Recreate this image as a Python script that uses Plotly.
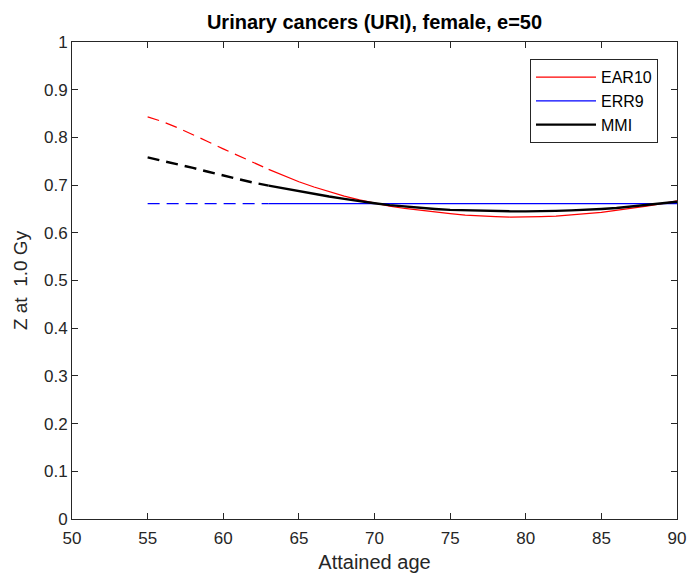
import plotly.graph_objects as go

ages = list(range(55, 91))
ear10 = [0.843, 0.833, 0.820, 0.806, 0.791, 0.776, 0.762, 0.747, 0.733, 0.720,
         0.707, 0.696, 0.686, 0.677, 0.669, 0.662, 0.656, 0.651, 0.647, 0.643,
         0.640, 0.637, 0.635, 0.634, 0.633, 0.633, 0.634, 0.635, 0.637, 0.640,
         0.643, 0.647, 0.651, 0.656, 0.661, 0.667]
err9 = [0.661] * 36
mmi = [0.758, 0.751, 0.743, 0.736, 0.728, 0.720, 0.712, 0.705, 0.699, 0.693,
       0.687, 0.681, 0.676, 0.671, 0.666, 0.662, 0.658, 0.655, 0.652, 0.650,
       0.648, 0.647, 0.646, 0.645, 0.645, 0.645, 0.645, 0.646, 0.647, 0.648,
       0.650, 0.652, 0.655, 0.658, 0.661, 0.665]
dash_end_age = 63

series = [("EAR10", ear10, "#ff0000", 1.2),
          ("ERR9", err9, "#0000ff", 1.2),
          ("MMI", mmi, "#000000", 2.4)]

k = ages.index(dash_end_age)
fig = go.Figure()
for name, vals, col, w in series:
    fig.add_trace(go.Scatter(x=ages[:k + 1], y=vals[:k + 1], mode="lines",
                             line=dict(color=col, width=w, dash="12px,7px"),
                             showlegend=False, hoverinfo="skip"))
for name, vals, col, w in series:
    fig.add_trace(go.Scatter(x=ages[k:], y=vals[k:], mode="lines", name=name,
                             line=dict(color=col, width=w)))

axis_col = "#262626"
common = dict(showline=True, linecolor=axis_col, linewidth=1, mirror="ticks",
              ticks="inside", ticklen=6, tickcolor=axis_col, showgrid=False,
              zeroline=False, automargin=False,
              tickfont=dict(size=17, color=axis_col))
fig.update_xaxes(range=[50, 90], tickvals=list(range(50, 91, 5)),
                 ticklabelstandoff=4,
                 title=dict(text="Attained age", font=dict(size=20, color=axis_col), standoff=7),
                 **common)
fig.update_yaxes(range=[0, 1], tickvals=[i / 10 for i in range(11)],
                 ticktext=["0", "0.1", "0.2", "0.3", "0.4", "0.5", "0.6", "0.7", "0.8", "0.9", "1"],
                 title=dict(text="Z at\u00a0 1.0 Gy", font=dict(size=19, color=axis_col), standoff=11),
                 **common)
fig.update_layout(
    width=688, height=577,
    margin=dict(l=72, r=11, t=42, b=58),
    paper_bgcolor="white", plot_bgcolor="white",
    font=dict(family="Liberation Sans, Arial, sans-serif", color=axis_col),
    title=dict(text="<b>Urinary cancers (URI), female, e=50</b>", x=0.5, xref="paper",
               xanchor="center", y=1 - 22 / 577, yanchor="middle",
               font=dict(size=20, color="#000000")),
    legend=dict(x=0.9686, y=0.964, xanchor="right", yanchor="top",
                bordercolor="#262626", borderwidth=1, bgcolor="white",
                font=dict(size=16, color="#000000"), tracegroupgap=0,
                itemwidth=60),
)
fig.write_html("out.html")
